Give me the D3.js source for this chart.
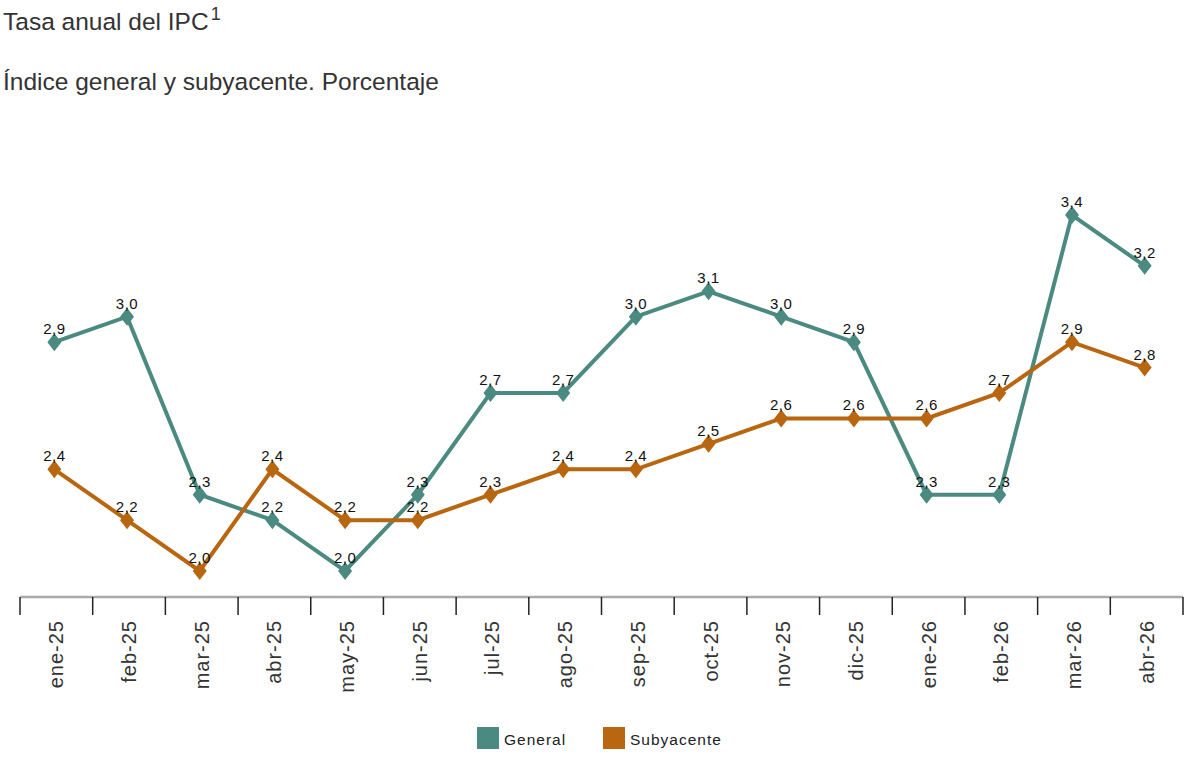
<!DOCTYPE html>
<html>
<head>
<meta charset="utf-8">
<script src="https://cdn.jsdelivr.net/npm/d3@7"></script>
<style>
  body { margin: 0; background: #fff; }
  svg { font-family: "Liberation Sans", Arial, sans-serif; }
</style>
</head>
<body>
<svg id="chart"></svg>
<script>
const months = ["ene-25", "feb-25", "mar-25", "abr-25", "may-25", "jun-25", "jul-25", "ago-25",
  "sep-25", "oct-25", "nov-25", "dic-25", "ene-26", "feb-26", "mar-26", "abr-26"];
const general = [2.9, 3.0, 2.3, 2.2, 2.0, 2.3, 2.7, 2.7, 3.0, 3.1, 3.0, 2.9, 2.3, 2.3, 3.4, 3.2];
const subyacente = [2.4, 2.2, 2.0, 2.4, 2.2, 2.2, 2.3, 2.4, 2.4, 2.5, 2.6, 2.6, 2.6, 2.7, 2.9, 2.8];
const seriesNames = ["General", "Subyacente"];
const seriesColors = ["#4a8a80", "#b8660f"];

const width = 1200, height = 757;
const svg = d3.select("#chart").attr("width", width).attr("height", height);

// titles
const title = svg.append("text").attr("x", 3).attr("y", 30)
  .attr("font-size", 24.5).attr("fill", "#333");
title.append("tspan").text("Tasa anual del IPC");
title.append("tspan").attr("dx", 2).attr("dy", -10).attr("font-size", 18).text("1");

svg.append("text").attr("x", 3).attr("y", 90)
  .attr("font-size", 24.5).attr("fill", "#333")
  .text("Índice general y subyacente. Porcentaje");

const axisY = 597;
const x = d3.scaleBand().domain(months).range([20, 1183]);
const y = d3.scaleLinear().domain([2.0, 3.4]).range([571, 215]);

// axis line + ticks at band edges
svg.append("line")
  .attr("x1", x.range()[0]).attr("x2", x.range()[1])
  .attr("y1", axisY).attr("y2", axisY)
  .attr("stroke", "#aaa").attr("stroke-width", 2.5);

const edges = months.map(m => x(m)).concat([x.range()[1]]);
svg.selectAll(".tick").data(edges).enter().append("line")
  .attr("class", "tick")
  .attr("x1", d => d).attr("x2", d => d)
  .attr("y1", axisY).attr("y2", axisY + 18)
  .attr("stroke", "#222").attr("stroke-width", 1.5);

svg.selectAll(".xlab").data(months).enter().append("text")
  .attr("class", "xlab")
  .attr("transform", d => `translate(${x(d) + x.bandwidth() / 2 + 7},${axisY + 23}) rotate(-90)`)
  .attr("text-anchor", "end")
  .attr("font-size", 20).attr("letter-spacing", 1).attr("fill", "#333")
  .text(d => d);

const fmt = v => d3.format(".1f")(v).replace(".", ",");
const cx = i => x(months[i]) + x.bandwidth() / 2 - 2;
const diamond = "M0,-9L7,0L0,9L-7,0Z";

const drawSeries = (values, color) => {
  const line = d3.line().x((d, i) => cx(i)).y(d => y(d));
  svg.append("path")
    .attr("d", line(values))
    .attr("fill", "none")
    .attr("stroke", color)
    .attr("stroke-width", 4);

  svg.append("g").selectAll("path").data(values).enter().append("path")
    .attr("d", diamond)
    .attr("transform", (d, i) => `translate(${cx(i)},${y(d)})`)
    .attr("fill", color);

  svg.append("g").selectAll("text").data(values).enter().append("text")
    .attr("x", (d, i) => cx(i))
    .attr("y", d => y(d) - 8)
    .attr("text-anchor", "middle")
    .attr("font-size", 15).attr("letter-spacing", 0.5).attr("fill", "#111")
    .text(d => fmt(d));
};

drawSeries(general, seriesColors[0]);
drawSeries(subyacente, seriesColors[1]);

// legend
const legendX = [477, 603];
seriesNames.forEach((name, i) => {
  svg.append("rect")
    .attr("x", legendX[i]).attr("y", 727)
    .attr("width", 22).attr("height", 22)
    .attr("fill", seriesColors[i]);
  svg.append("text")
    .attr("x", legendX[i] + 27).attr("y", 745)
    .attr("font-size", 15.5).attr("letter-spacing", 1).attr("fill", "#222")
    .text(name);
});
</script>
</body>
</html>
